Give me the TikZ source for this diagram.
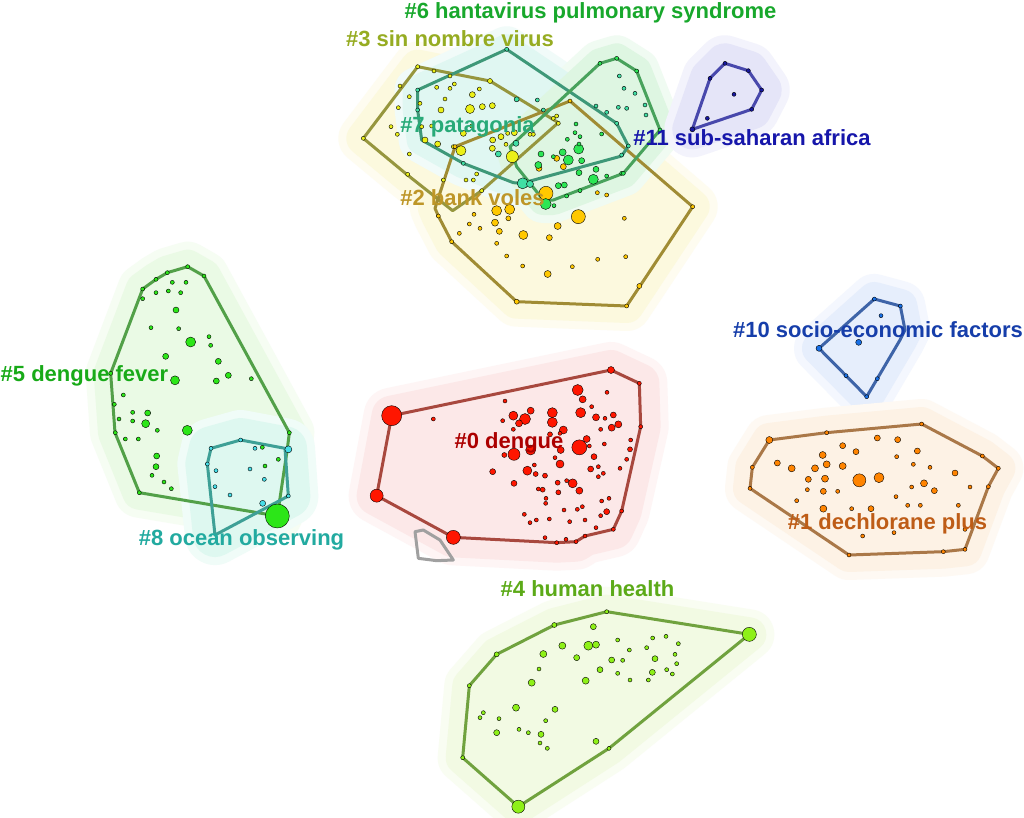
\documentclass[tikz,border=0pt]{standalone}
\usepackage{fontspec}
\setmainfont{Liberation Sans}
\definecolor{hyel}{RGB}{252,249,222}
\definecolor{hgrn}{RGB}{222,246,226}
\definecolor{hcyn}{RGB}{224,247,242}
\definecolor{hpink}{RGB}{252,232,232}
\definecolor{hpeach}{RGB}{253,242,229}
\definecolor{hblue}{RGB}{230,238,252}
\definecolor{hlav}{RGB}{229,229,248}
\definecolor{hgreen5}{RGB}{234,250,229}
\definecolor{hcyan8}{RGB}{222,248,240}
\definecolor{hlime}{RGB}{242,250,227}
\definecolor{lred}{RGB}{168,72,62}
\definecolor{lorange}{RGB}{170,120,72}
\definecolor{lblue10}{RGB}{62,100,168}
\definecolor{lblue11}{RGB}{72,72,172}
\definecolor{lgreen5}{RGB}{82,160,72}
\definecolor{lteal8}{RGB}{62,160,150}
\definecolor{llime}{RGB}{112,162,62}
\definecolor{lolive}{RGB}{150,150,62}
\definecolor{lgold}{RGB}{160,140,52}
\definecolor{lteal6}{RGB}{62,152,120}
\definecolor{lgreen7}{RGB}{72,162,92}
\definecolor{lgray}{RGB}{160,160,160}
\definecolor{dred}{RGB}{255,22,0}
\definecolor{dorange}{RGB}{255,132,0}
\definecolor{dblue10}{RGB}{24,112,230}
\definecolor{dblue11}{RGB}{24,24,160}
\definecolor{dgreen}{RGB}{44,230,24}
\definecolor{dcyan}{RGB}{70,222,232}
\definecolor{dlime}{RGB}{142,240,24}
\definecolor{dyellow}{RGB}{235,240,24}
\definecolor{dgold}{RGB}{255,200,0}
\definecolor{dgreen7}{RGB}{44,230,84}
\definecolor{dteal6}{RGB}{64,222,164}
\definecolor{t6}{RGB}{24,168,44}
\definecolor{t3}{RGB}{150,172,34}
\definecolor{t7}{RGB}{40,170,120}
\definecolor{t2}{RGB}{190,150,40}
\definecolor{t11}{RGB}{22,22,170}
\definecolor{t10}{RGB}{22,62,170}
\definecolor{t5}{RGB}{24,170,24}
\definecolor{t0}{RGB}{172,0,0}
\definecolor{t8}{RGB}{34,170,160}
\definecolor{t1}{RGB}{190,92,22}
\definecolor{t4}{RGB}{92,170,24}
\tikzset{
  zr/.style 2 args={shift={(#1,#2)},x=0.333333pt,y=-0.333333pt},
  hull/.style={line width=3pt,line join=round},
  halo/.style={line join=round},
  dot/.style={draw=black,line width=0.4pt},
  lab/.style={font=\bfseries\fontsize{22}{26}\selectfont,anchor=base,inner sep=0pt},
}
\newcommand\haloout[3]{\draw[halo,line width=#2pt+16pt,draw=#1!45!white,fill=#1!45!white] #3;}
\newcommand\haloin[3]{\draw[halo,line width=#2pt,draw=#1,fill=#1] #3;}
\begin{document}
\begin{tikzpicture}[x=1pt,y=-1pt]
\useasboundingbox (0,0) rectangle (1024,817);
\fill[white] (0,0) rectangle (1024,817);

% ---------------- top region: #2 #3 #6 #7
\begin{scope}[zr={340}{0}]
\def\pThree{(233,200) -- (450,243) -- (655,368) -- (425,572) -- (338,632) -- (200,523) -- (70,415) -- cycle}
\def\pTwo{(690,303) -- (1058,620) -- (900,858) -- (860,918) -- (530,905) -- (335,725) -- (295,648) -- (285,625) -- (345,440) -- cycle}
\def\pSix{(500,148) -- (830,370) -- (865,438) -- (845,468) -- (545,550) -- (520,548) -- (370,490) -- (245,420) -- (233,330) -- (233,270) -- cycle}
\def\pSeven{(510,440) -- (780,190) -- (830,175) -- (890,213) -- (960,390) -- (850,520) -- (640,600) -- (610,600) -- (530,500) -- cycle}
\haloout{hyel}{34}{\pThree}
\haloout{hyel}{34}{\pTwo}
\haloin{hyel}{34}{\pThree}
\haloin{hyel}{34}{\pTwo}
\haloout{hcyn}{30}{\pSix}
\haloout{hgrn}{30}{\pSeven}
\haloin{hcyn}{30}{\pSix}
\haloin{hgrn}{30}{\pSeven}
\draw[hull,draw=lolive] \pThree;
\draw[hull,draw=lgold] \pTwo;
\draw[hull,draw=lteal6] \pSix;
\draw[hull,draw=lgreen7] \pSeven;
\foreach \a/\b/\r in {233/200/2,282/213/2,330/228/2,290/262/2,343/252/2,330/265/2,180/258/2,208/290/2,153/380/2,172/403/2,240/310/2,208/462/2,315/297/2,175/323/2,418/267/2,450/243/2.5,397/284/3,427/320/3,457/317/3,303/330/3,390/327/4.5,370/400/3,255/420/3,293/432/3,363/452/5,458/420/3,483/410/3,503/400/2,523/398/3,498/433/2,457/445/3,475/462/2,517/470/6,410/522/2,378/540/2,400/540/2,310/540/2,203/523/2,425/572/2,640/355/2,655/370/2,650/348/2,580/403/2,570/403/2,245/380/2,275/378/2,395/378/2,340/440/2,70/415/2}
  {\filldraw[dot,fill=dyellow] (\a,\b) circle[radius=\r pt];}
\foreach \a/\b/\r in {618/580/7,470/632/5,509/628/5,465/668/3.5,505/655/2.5,478/694/3,550/705/4.5,628/713/3,653/678/3.5,715/650/7,470/730/2,420/685/2,388/672/2,402/643/2,358/700/2,335/725/2,295/648/2,500/768/2,548/798/2,623/822/3.5,697/800/2,773/778/2,857/770/2,853/655/2,898/858/2.5,860/918/2,530/905/2.5,1058/620/2,690/303/2,650/475/3,670/500/3,597/505/3,800/585/2,772/578/2,345/440/2}
  {\filldraw[dot,fill=dgold] (\a,\b) circle[radius=\r pt];}
\foreach \a/\b/\r in {548/550/5.5,570/552/3.5,530/298/2.5,592/300/2,528/430/3,475/462/3,233/270/2,233/330/2,500/148/2,838/228/2,852/265/2,885/280/2,915/315/2,918/345/2,865/438/2,768/318/2,800/337/2,835/322/2,860/325/2,830/370/2,845/465/2,370/490/2,610/330/2}
  {\filldraw[dot,fill=dteal6] (\a,\b) circle[radius=\r pt];}
\foreach \a/\b/\r in {716/447/5,685/480/5,668/457/3.5,640/470/2,603/462/3,595/495/3.5,725/482/3,717/518/3,768/508/3,760/538/5,800/528/2,845/520/2,655/557/3,673/555/3,617/612/5.5,720/572/2,680/588/2,642/617/2,682/418/2,717/432/2,708/372/2,705/398/2,720/410/2,785/402/2,780/190/2,830/175/2,890/213/2,960/390/2,850/520/2}
  {\filldraw[dot,fill=dgreen7] (\a,\b) circle[radius=\r pt];}
\end{scope}

% ---------------- #11
\begin{scope}[zr={660}{30}]
\def\pEleven{(195,100) -- (265,122) -- (305,180) -- (275,238) -- (97,298) -- (150,145) -- cycle}
\haloout{hlav}{40}{\pEleven}
\haloin{hlav}{40}{\pEleven}
\draw[hull,draw=lblue11] \pEleven;
\foreach \a/\b/\r in {195/100/2,265/122/2,305/180/2,275/238/2,97/298/2.5,150/145/2,222/193/2,142/265/2}
  {\filldraw[dot,fill=dblue11] (\a,\b) circle[radius=\r pt];}
\end{scope}

% ---------------- #5 and #8
\begin{scope}[zr={80}{240}]
\def\pFive{(323,80) -- (372,108) -- (628,578) -- (622,627) -- (592,828) -- (178,758) -- (105,578) -- (92,400) -- (188,147) -- (228,118) -- (262,98) -- cycle}
\def\pEight{(393,625) -- (482,600) -- (615,625) -- (625,768) -- (405,885) -- (382,672) -- cycle}
\haloout{hgreen5}{34}{\pFive}
\haloin{hgreen5}{34}{\pFive}
\haloout{hcyan8}{44}{\pEight}
\haloin{hcyan8}{44}{\pEight}
\draw[hull,draw=lgreen5] \pFive;
\draw[hull,draw=lteal8] \pEight;
\foreach \a/\b/\r in {393/625/2,482/600/2,382/672/2,510/687/2,553/718/2,408/692/2,405/740/2,450/765/2,548/790/3,625/768/2,525/625/2,625/628/3.5}
  {\filldraw[dot,fill=dcyan] (\a,\b) circle[radius=\r pt];}
\foreach \a/\b/\r in {323/80/2,372/108/2,628/578/2,188/147/2,228/118/2,262/98/2,178/758/2,92/400/2,277/127/2,318/127/2,228/158/2,265/153/2,302/158/2,188/176/2,288/210/3,213/263/2,296/266/2,332/306/5,387/290/2,392/316/2,257/349/3,415/364/3,445/406/3,409/423/3,514/416/2,285/421/4.5,130/465/2,103/493/2,158/517/2,203/519/3,117/537/2,158/543/2,197/551/4,232/571/2,322/571/5,106/578/2,136/597/2,175/597/2,230/648/3,228/680/3,216/706/2,252/726/2,274/746/2,547/622/2,595/658/2,555/678/2,592/828/12}
  {\filldraw[dot,fill=dgreen] (\a,\b) circle[radius=\r pt];}
\end{scope}

% ---------------- #0
\begin{scope}[zr={340}{340}]
\def\pZero{(813,90) -- (898,130) -- (902,260) -- (845,513) -- (820,568) -- (735,588) -- (708,605) -- (650,608) -- (340,592) -- (110,467) -- (155,227) -- cycle}
\haloout{hpink}{40}{\pZero}
\haloin{hpink}{40}{\pZero}
\draw[hull,draw=lred] \pZero;
\draw[hull,draw=lgray] (225,575) -- (250,570) -- (300,600) -- (340,660) -- (290,662) -- (235,655) -- cycle;
\foreach \a/\b/\r in {813/90/3.5,898/130/2,902/260/2,845/513/2,820/568/2,340/592/7,110/467/6.5,155/227/10,713/150/5.5,728/178/3.5,801/157/2,755/200/2,495/183/2,572/212/3.5,520/227/4.5,555/237/5.5,637/218/5,637/247/5,722/218/5,768/232/3.5,820/225/3,835/253/3.5,815/263/3.5,795/235/2,782/268/2,488/242/2,537/250/3.5,520/268/2,670/270/4,660/280/2,630/283/2.5,740/297/3.5,718/322/7.5,748/318/2,793/312/2,662/330/3.5,572/330/5,522/343/6,493/345/2.5,645/353/2,762/350/3,872/300/2,870/328/2.5,860/358/2,660/372/4,583/375/2,562/392/4.5,587/402/2.5,615/407/2.5,752/387/3,775/380/2,840/385/2,775/410/2,790/400/2,458/395/3,522/430/3,653/428/2.5,698/430/4.5,680/422/2,718/452/3.5,608/449/2.5,595/447/2,655/457/2.5,618/475/2,617/490/2,785/483/2,807/475/2,800/515/3,727/500/2,712/508/2,782/527/2,672/510/2,553/523/2,570/548/2,589/540/2,628/537/2,689/545/2,735/540/2,768/563/2,615/593/2,650/608/2,678/598/2,708/605/2,735/588/2,280/237/2}
  {\filldraw[dot,fill=dred] (\a,\b) circle[radius=\r pt];}
\end{scope}

% ---------------- #10 and #1
\begin{scope}[zr={720}{280}]
\def\pTen{(463,57) -- (541,78) -- (555,150) -- (540,180) -- (440,350) -- (378,287) -- (297,205) -- cycle}
\def\pOne{(148,480) -- (320,458) -- (605,432) -- (787,528) -- (835,565) -- (805,620) -- (735,808) -- (670,815) -- (387,825) -- (90,625) -- (97,562) -- cycle}
\haloout{hblue}{34}{\pTen}
\haloin{hblue}{34}{\pTen}
\haloout{hpeach}{34}{\pOne}
\haloin{hpeach}{34}{\pOne}
\draw[hull,draw=lblue10] \pTen;
\draw[hull,draw=lorange] \pOne;
\foreach \a/\b/\r in {463/57/2,541/78/2,297/205/3,440/350/2,378/287/2,472/296/2,483/107/2,416/187/3}
  {\filldraw[dot,fill=dblue10] (\a,\b) circle[radius=\r pt];}
\foreach \a/\b/\r in {148/480/3.5,320/458/2,605/432/2,787/528/2,835/565/2,805/620/2,735/808/2,670/815/2,387/825/2,90/625/2,97/562/2,368/497/3,408/515/3,472/474/3,533/479/3,592/513/3,308/525/3.5,320/553/3.5,368/558/3.5,172/549/3,215/565/3.5,285/565/3.5,265/598/3,315/596/3.5,418/601/6.5,477/593/5,530/530/2,580/553/2,630/562/2,705/579/3,612/610/3.5,643/632/3,575/621/2,750/621/2,262/629/2,310/634/3,353/634/2,528/650/2,230/662/2,310/686/3.5,395/686/2,453/686/3,563/676/2,601/676/2,715/676/2,428/768/2,522/758/2,735/748/2}
  {\filldraw[dot,fill=dorange] (\a,\b) circle[radius=\r pt];}
\end{scope}

% ---------------- #4
\begin{scope}[zr={430}{580}]
\def\pFour{(530,95) -- (958,163) -- (537,505) -- (265,680) -- (98,533) -- (118,317) -- (200,223) -- (373,135) -- cycle}
\haloout{hlime}{34}{\pFour}
\haloin{hlime}{34}{\pFour}
\draw[hull,draw=llime] \pFour;
\foreach \a/\b/\r in {530/95/2,958/163/7,537/505/2,265/680/6.5,98/533/2,118/317/2,200/223/2.5,373/135/2.5,490/140/3,397/197/3.5,475/197/4.5,498/194/3.5,340/222/3.5,440/233/3,563/180/2,598/210/2,545/240/3,578/241/2,668/174/2,708/169/2,745/191/2,650/203/2,735/223/2,675/236/3,740/251/2,327/267/2,510/269/3,563/280/2,667/277/3,710/269/2,727/282/2,305/308/3.5,467/302/3.5,600/300/2,655/300/2,258/383/3.5,375/388/3,160/398/2,150/413/2,207/416/2,347/422/2,200/458/3,267/448/2,295/458/2,333/463/3,330/489/2,352/505/2,498/484/3}
  {\filldraw[dot,fill=dlime] (\a,\b) circle[radius=\r pt];}
\end{scope}

% ---------------- labels
\node[lab,text=t6] (l6) at (590.5,18) {\#6 hantavirus pulmonary syndrome};
\node[lab,text=t3] (l3) at (450,46) {\#3 sin nombre virus};
\node[lab,text=t7] (l7) at (467.5,132) {\#7 patagonia};
\node[lab,text=t11] (l11) at (752,145) {\#11 sub-saharan africa};
\node[lab,text=t2] (l2) at (472.5,205) {\#2 bank voles};
\node[lab,text=t5] (l5) at (84.5,381) {\#5 dengue fever};
\node[lab,text=t10] (l10) at (878,337) {\#10 socio-economic factors};
\node[lab,text=t0] (l0) at (509,448) {\#0 dengue};
\node[lab,text=t8] (l8) at (241.5,545) {\#8 ocean observing};
\node[lab,text=t1] (l1) at (887.5,529) {\#1 dechlorane plus};
\node[lab,text=t4] (l4) at (587.5,596) {\#4 human health};
\end{tikzpicture}
\end{document}
